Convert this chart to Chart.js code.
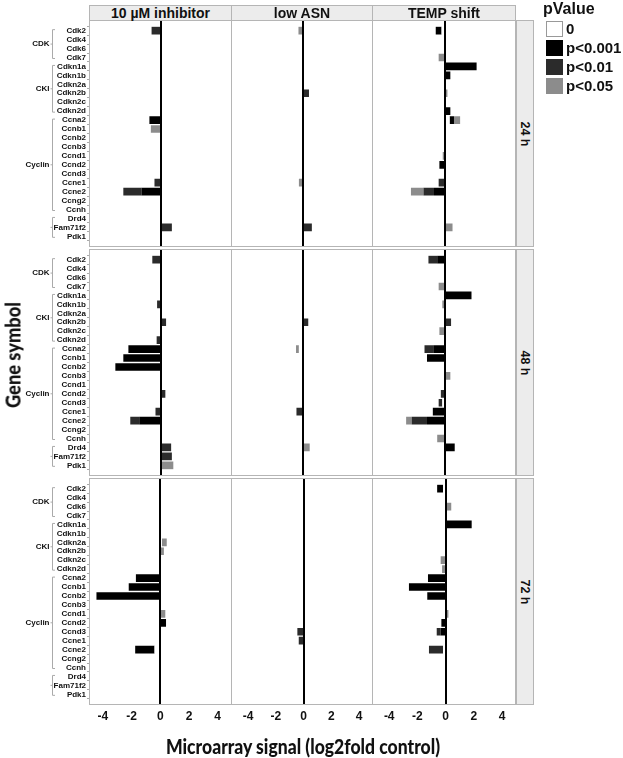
<!DOCTYPE html>
<html><head><meta charset="utf-8">
<script src="https://cdn.jsdelivr.net/npm/chart.js@4"></script>
<style>
html,body{margin:0;padding:0;background:#fff;}
#wrap{position:relative;width:623px;height:758px;overflow:hidden;font-family:"Liberation Sans",Arial,sans-serif;color:#111;}
canvas{position:absolute;}
.panel{position:absolute;border:1px solid #b5b5b5;box-sizing:border-box;pointer-events:none;}
.strip{position:absolute;background:#ececec;border:1px solid #b5b5b5;box-sizing:border-box;font-weight:bold;display:flex;align-items:center;justify-content:center;white-space:nowrap;}
.rot{position:absolute;white-space:nowrap;font-weight:bold;}
.leg{position:absolute;font-weight:bold;white-space:nowrap;}
.key{position:absolute;box-sizing:border-box;}
</style></head>
<body><div id="wrap"></div>
<script>
// ---------- data ----------
const genes = ['Cdk2','Cdk4','Cdk6','Cdk7','Cdkn1a','Cdkn1b','Cdkn2a','Cdkn2b','Cdkn2c','Cdkn2d',
  'Ccna2','Ccnb1','Ccnb2','Ccnb3','Ccnd1','Ccnd2','Ccnd3','Ccne1','Ccne2','Ccng2','Ccnh','Drd4','Fam71f2','Pdk1'];
const groupNames = ['CDK','CKI','Cyclin',''];
const groupFirst = ['Cdk2','Cdkn1a','Ccna2','Drd4'];
const groupLast  = ['Cdk7','Cdkn2d','Ccnh','Pdk1'];
const treatments = ['10 µM inhibitor','low ASN','TEMP shift'];
const times = ['24 h','48 h','72 h'];
const pLevels = ['0','p<0.001','p<0.01','p<0.05'];
const xTicks = [-4,-2,0,2,4];

// [gene, pValue level, log2 fold segment]
const inh24 = [
 ['Cdk2','p<0.01',-0.65],['Ccna2','p<0.001',-0.8],['Ccnb1','p<0.05',-0.7],['Ccne1','p<0.01',-0.45],
 ['Ccne2','p<0.001',-1.35],['Ccne2','p<0.01',-1.25],['Fam71f2','p<0.01',0.75]
];
const asn24 = [
 ['Cdk2','p<0.05',-0.28],['Cdkn2b','p<0.01',0.45],['Ccne1','p<0.05',-0.25],['Fam71f2','p<0.01',0.65]
];
const temp24 = [
 ['Cdk2','0',-0.2],['Cdk2','p<0.001',-0.4],['Cdk7','p<0.05',-0.4],['Cdkn1a','p<0.001',2.2],
 ['Cdkn1b','p<0.001',0.4],['Cdkn2b','p<0.05',0.2],['Cdkn2d','p<0.001',0.4],
 ['Ccna2','0',0.35],['Ccna2','p<0.001',0.3],['Ccna2','p<0.05',0.42],
 ['Ccnd1','p<0.05',-0.12],['Ccnd2','p<0.001',-0.35],['Ccne1','p<0.01',-0.4],
 ['Ccne2','p<0.001',-0.72],['Ccne2','p<0.01',-0.72],['Ccne2','p<0.05',-0.86],['Fam71f2','p<0.05',0.55]
];
const inh48 = [
 ['Cdk2','p<0.01',-0.6],['Cdkn1b','p<0.01',-0.27],['Cdkn2b','p<0.01',0.35],['Cdkn2d','p<0.01',-0.3],
 ['Ccna2','p<0.001',-2.25],['Ccnb1','p<0.001',-2.6],['Ccnb2','p<0.001',-3.15],['Ccnd2','p<0.01',0.3],
 ['Ccne1','p<0.01',-0.38],['Ccne2','p<0.001',-1.5],['Ccne2','p<0.01',-0.62],
 ['Drd4','p<0.01',0.7],['Fam71f2','p<0.01',0.75],['Pdk1','p<0.05',0.85]
];
const asn48 = [
 ['Cdkn2b','p<0.01',0.4],['Ccna2','0',-0.25],['Ccna2','p<0.05',-0.2],['Ccne1','p<0.01',-0.42],['Drd4','p<0.05',0.5]
];
const temp48 = [
 ['Cdk2','p<0.001',-0.5],['Cdk2','p<0.01',-0.6],['Cdk7','p<0.05',-0.4],['Cdkn1a','p<0.001',1.85],
 ['Cdkn1b','p<0.05',-0.15],['Cdkn2b','p<0.01',0.45],['Cdkn2c','p<0.05',-0.35],
 ['Ccna2','p<0.001',-0.77],['Ccna2','p<0.01',-0.6],['Ccnb1','p<0.001',-1.2],['Ccnb3','p<0.05',0.4],
 ['Ccnd2','p<0.01',-0.25],['Ccnd3','0',-0.15],['Ccnd3','p<0.01',-0.25],['Ccne1','p<0.001',-0.8],
 ['Ccne2','p<0.001',-1.2],['Ccne2','p<0.01',-1.05],['Ccne2','p<0.05',-0.38],
 ['Ccnh','p<0.05',-0.5],['Drd4','p<0.001',0.7]
];
const inh72 = [
 ['Cdkn2a','0',0.12],['Cdkn2a','p<0.05',0.33],['Cdkn2b','p<0.05',0.25],
 ['Ccna2','p<0.001',-1.7],['Ccnb1','p<0.001',-2.2],['Ccnb2','p<0.001',-4.45],
 ['Ccnd1','p<0.05',0.35],['Ccnd2','p<0.001',0.4],['Ccne2','0',-0.4],['Ccne2','p<0.001',-1.35]
];
const asn72 = [
 ['Ccnd3','p<0.01',-0.45],['Ccne1','p<0.01',-0.35]
];
const temp72 = [
 ['Cdk2','0',-0.18],['Cdk2','p<0.001',-0.42],['Cdk6','p<0.05',0.4],['Cdkn1a','p<0.001',1.85],
 ['Cdkn2c','p<0.05',-0.35],['Cdkn2d','p<0.05',-0.25],['Ccna2','p<0.001',-1.25],['Ccnb1','p<0.001',-2.6],
 ['Ccnb2','p<0.001',-1.3],['Ccnd1','p<0.05',0.2],['Ccnd2','p<0.001',-0.3],
 ['Ccnd3','p<0.001',-0.35],['Ccnd3','p<0.01',-0.28],['Ccne2','0',-0.18],['Ccne2','p<0.01',-1.0]
];
const panelData = [[inh24,asn24,temp24],[inh48,asn48,temp48],[inh72,asn72,temp72]];

// ---------- layout / style ----------
const FONT = "'Liberation Sans', Arial, sans-serif";
const pColors = ['#ffffff','#000000','#2b2b2b','#8c8c8c'];
const colX = [90,232,373,516];
const rowY = [20,249,478];
const rowH = 227;
const PAD = 6.2;
const X_MIN = -4.9, X_MAX = 4.9;
const wrap = document.getElementById('wrap');

function el(cls, css, text){
  const d = document.createElement('div'); d.className = cls;
  Object.assign(d.style, css); if (text!==undefined) d.textContent = text;
  wrap.appendChild(d); return d;
}

const zeroLine = {
  id:'zeroLine',
  afterDatasetsDraw(chart){
    const {ctx, chartArea, scales} = chart;
    const px = Math.round(scales.x.getPixelForValue(0));
    ctx.save(); ctx.strokeStyle = '#000'; ctx.lineWidth = 2;
    ctx.beginPath(); ctx.moveTo(px, chartArea.top - PAD); ctx.lineTo(px, chartArea.bottom + PAD); ctx.stroke();
    ctx.restore();
  }
};
const groupBrackets = {
  id:'groupBrackets',
  afterDraw(chart, args, opts){
    if (!opts.show) return;
    const {ctx, scales} = chart; const y = scales.y;
    ctx.save();
    groupNames.forEach((name,i)=>{
      const y1 = y.getPixelForValue(genes.indexOf(groupFirst[i])) - 1;
      const y2 = y.getPixelForValue(genes.indexOf(groupLast[i])) + 1;
      const bx = 52.5;
      ctx.strokeStyle = '#aaaaaa'; ctx.lineWidth = 1;
      ctx.beginPath();
      ctx.moveTo(bx+2.5, y1); ctx.lineTo(bx, y1); ctx.lineTo(bx, y2); ctx.lineTo(bx+2.5, y2);
      ctx.moveTo(bx, (y1+y2)/2); ctx.lineTo(bx-2, (y1+y2)/2);
      ctx.stroke();
      if (name){
        ctx.fillStyle = '#111'; ctx.font = 'bold 8px ' + FONT;
        ctx.textAlign = 'right'; ctx.textBaseline = 'middle';
        ctx.fillText(name, 49.5, (y1+y2)/2);
      }
    });
    ctx.restore();
  }
};

function buildDatasets(entries){
  return pLevels.map((lvl,i)=>({
    label: lvl,
    data: genes.map(g=>{ const e = entries.find(e=>e[0]===g && e[1]===lvl); return e ? e[2] : null; }),
    backgroundColor: pColors[i],
    borderWidth: 0,
    barPercentage: 0.86,
    categoryPercentage: 1.0
  }));
}

function makeChart(r, c){
  const left = c===0 ? 0 : colX[c];
  const width = colX[c+1] - left;
  const isBottom = r===2;
  const height = isBottom ? rowH + 30 : rowH;
  const cv = document.createElement('canvas');
  cv.width = width; cv.height = height;
  cv.style.left = left+'px'; cv.style.top = rowY[r]+'px';
  cv.style.width = width+'px'; cv.style.height = height+'px';
  wrap.appendChild(cv);
  new Chart(cv, {
    type:'bar',
    data:{labels: genes, datasets: buildDatasets(panelData[r][c])},
    options:{
      indexAxis:'y', responsive:false, animation:false, devicePixelRatio:1,
      layout:{padding:{top:PAD, bottom:isBottom?0:PAD, left:0, right:0}},
      plugins:{legend:{display:false}, tooltip:{enabled:false}, groupBrackets:{show:c===0}},
      scales:{
        x:{type:'linear', min:X_MIN, max:X_MAX, stacked:true, display:isBottom,
          grid:{display:false, drawTicks:false}, border:{display:false},
          afterBuildTicks: s => { s.ticks = xTicks.map(v=>({value:v})); },
          afterFit: s => { if (isBottom) s.height = height - (rowH - PAD); },
          ticks:{padding:11, color:'#111', autoSkip:false, maxRotation:0, font:{family:FONT, size:12, weight:'bold'}}
        },
        y:{type:'category', stacked:true, display:c===0, offset:true,
          grid:{display:true, drawOnChartArea:false, drawTicks:true, tickLength:3, color:'#aaaaaa'},
          border:{display:false},
          afterFit: s => { if (c===0) s.width = colX[0]; },
          ticks:{padding:1, color:'#111', autoSkip:false, font:{family:FONT, size:8, weight:'bold'}}
        }
      }
    },
    plugins:[zeroLine, groupBrackets]
  });
}

// panels
for (let r=0;r<3;r++){
  for (let c=0;c<3;c++){
    makeChart(r,c);
    el('panel',{left:(colX[c]-1)+'px', top:rowY[r]+'px', width:(colX[c+1]-colX[c]+1)+'px', height:rowH+'px'});
  }
  el('strip',{left:colX[3]+'px', top:rowY[r]+'px', width:'18px', height:rowH+'px'});
  el('rot',{left:(colX[3]+9)+'px', top:(rowY[r]+rowH/2)+'px', fontSize:'12.5px',
    transform:'translate(-50%,-50%) rotate(90deg)'}, times[r]);
}
for (let c=0;c<3;c++){
  el('strip',{left:(colX[c]-1)+'px', top:'5px', width:(colX[c+1]-colX[c]+1)+'px', height:'16px', fontSize:'14px'}, treatments[c]);
}

// legend
el('leg',{left:'543px', top:'0px', fontSize:'16px', lineHeight:'17px'}, 'pValue');
pLevels.forEach((lvl,i)=>{
  const top = 21 + i*19;
  el('key',{left:'546px', top:top+'px', width:'17px', height:'16px', background:pColors[i],
    border: i===0 ? '1px solid #999' : 'none'});
  el('leg',{left:'566px', top:(top-1)+'px', fontSize:'15px', lineHeight:'18px'}, lvl);
});

// axis titles
const yt = el('rot',{left:'12px', top:'355px', fontFamily:"Lato, 'Open Sans', sans-serif", fontSize:'21px', fontWeight:'900'}, 'Gene symbol');
const xt = el('rot',{left:'303px', top:'746px', fontFamily:"Lato, 'Open Sans', sans-serif", fontSize:'20px', fontWeight:'900'}, 'Microarray signal (log2fold control)');
const sy = 106 / yt.offsetWidth, sx = 274 / xt.offsetWidth;
yt.style.transform = 'translate(-50%,-50%) rotate(-90deg) scaleX(' + sy.toFixed(3) + ')';
xt.style.transform = 'translate(-50%,-50%) scaleX(' + sx.toFixed(3) + ')';
</script>
</body></html>
